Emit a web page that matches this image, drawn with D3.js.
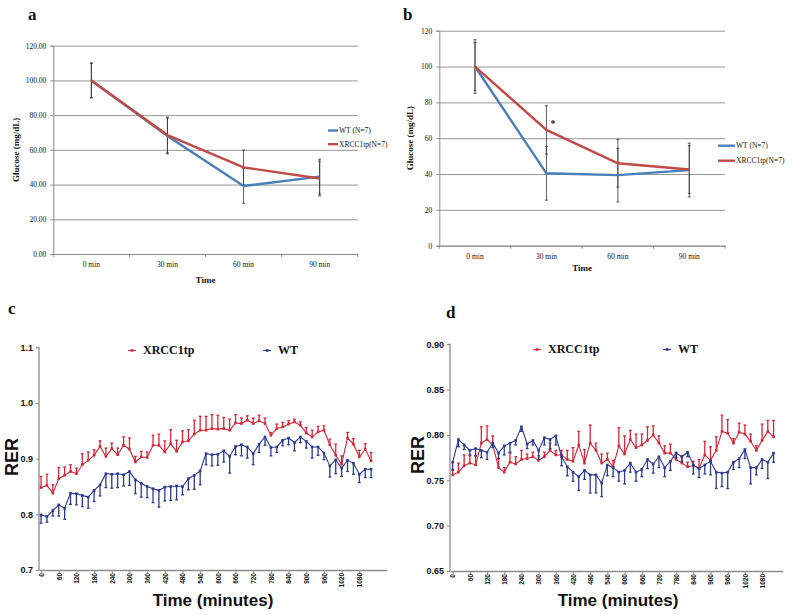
<!DOCTYPE html>
<html><head><meta charset="utf-8">
<script src="https://cdn.jsdelivr.net/npm/d3@7"></script>
<style>
body{margin:0;background:#fff;}
svg{display:block;}
</style></head>
<body>
<svg id="chart" width="800" height="615"></svg>
<script>
// ---------- Data: glucose tolerance (a, b) ----------
const timeCats = ["0 min", "30 min", "60 min", "90 min"];
const glucoseTicksA = [0, 20, 40, 60, 80, 100, 120];
const glucoseTicksB = [0, 20, 40, 60, 80, 100, 120];
const aWT = [100, 68.0, 39.2, 44.6];
const aXRCC = [100, 68.5, 49.9, 43.5];
const aWTerr = [10, 10.3, 10, 10];
const aXRCCerr = [10, 10.3, 10, 10];
const bWT = [100, 40.4, 39.4, 42.2];
const bXRCC = [100, 64.6, 46.0, 42.5];
const bWTerr = [15, 15, 15, 15];
const bXRCCerr = [13.5, 13.5, 13.3, 13.3];
const legendA = ["WT (N=7)", "XRCC1tp(N=7)"];
const legendB = ["WT (N=7)", "XRCC1tp(N=7)"];

// ---------- Data: RER (c, d) ----------
const rerTimes = [0,20,40,60,80,100,120,140,160,180,200,220,240,260,280,300,320,340,360,380,400,420,440,460,480,500,520,540,560,580,600,620,640,660,680,700,720,740,760,780,800,820,840,860,880,900,920,940,960,980,1000,1020,1040,1060,1080,1100,1120];
const rerTickLabels = [0,60,120,180,240,300,360,420,480,540,600,660,720,780,840,900,960,1020,1080];
const cTicksY = [0.7, 0.8, 0.9, 1.0, 1.1];
const dTicksY = [0.65, 0.70, 0.75, 0.80, 0.85, 0.90];
const cXRCC = [.848,.852,.838,.864,.870,.877,.873,.889,.897,.906,.922,.904,.918,.907,.924,.917,.894,.903,.902,.924,.924,.912,.927,.913,.930,.932,.944,.951,.951,.954,.953,.954,.951,.964,.963,.969,.963,.968,.963,.942,.954,.957,.962,.966,.960,.946,.939,.948,.951,.925,.906,.890,.937,.926,.903,.917,.896];
const cXRCCerr = [.02,.02,.015,.02,.015,.012,.01,.02,.015,.01,.01,.015,.01,.012,.015,.02,.01,.01,.01,.018,.02,.02,.025,.02,.02,.02,.025,.025,.025,.025,.025,.02,.02,.015,.01,.008,.01,.01,.01,.005,.008,.008,.006,.005,.006,.01,.012,.01,.008,.01,.02,.015,.01,.01,.012,.01,.015];
const cWT = [.799,.796,.807,.817,.811,.838,.837,.834,.831,.843,.853,.873,.872,.873,.871,.877,.862,.856,.850,.846,.843,.849,.850,.851,.850,.864,.870,.878,.909,.907,.908,.914,.904,.922,.925,.921,.909,.926,.939,.920,.921,.933,.937,.929,.939,.931,.921,.921,.910,.887,.898,.883,.897,.892,.872,.881,.881];
const cWTerr = [.015,.01,.01,.02,.02,.02,.02,.02,.02,.02,.02,.025,.025,.025,.02,.025,.025,.025,.02,.025,.03,.025,.025,.025,.015,.02,.025,.025,.02,.02,.02,.02,.03,.015,.02,.02,.02,.015,.015,.015,.01,.01,.012,.015,.01,.012,.02,.015,.012,.02,.025,.015,.02,.02,.015,.015,.015];
const dXRCC = [.756,.759,.766,.769,.767,.791,.795,.789,.764,.759,.770,.768,.773,.774,.776,.772,.776,.783,.778,.778,.773,.771,.789,.769,.791,.783,.769,.773,.765,.788,.779,.795,.786,.789,.794,.800,.791,.780,.780,.773,.769,.765,.766,.763,.778,.772,.783,.804,.802,.791,.803,.801,.793,.783,.794,.804,.798];
const dXRCCerr = [.005,.01,.012,.008,.01,.018,.015,.01,.01,.005,.01,.008,.01,.005,.005,.005,.005,.008,.005,.005,.01,.015,.015,.015,.02,.008,.01,.007,.007,.02,.02,.01,.015,.012,.015,.01,.008,.008,.01,.008,.008,.005,.005,.01,.015,.015,.015,.018,.015,.005,.01,.01,.008,.005,.018,.012,.018];
const dWT = [.770,.795,.789,.783,.785,.783,.781,.791,.780,.788,.791,.794,.809,.790,.794,.783,.797,.795,.799,.776,.765,.759,.754,.761,.756,.756,.747,.767,.764,.759,.761,.769,.759,.762,.773,.768,.776,.764,.771,.780,.776,.781,.767,.763,.767,.771,.759,.758,.759,.770,.774,.784,.764,.764,.773,.770,.780];
const dWTerr = [.008,.008,.005,.005,.008,.008,.008,.005,.006,.01,.01,.005,.005,.005,.005,.01,.008,.01,.01,.01,.01,.01,.015,.01,.02,.02,.015,.012,.01,.01,.015,.01,.01,.008,.01,.01,.012,.01,.01,.005,.005,.005,.01,.01,.01,.015,.018,.015,.018,.008,.01,.01,.018,.008,.01,.018,.01];
const rerLegend = ["XRCC1tp", "WT"];

// ---------- Styles ----------
const SERIF = "'Liberation Serif','Times New Roman',serif";
const SANS = "'Liberation Sans',Arial,sans-serif";
const XL_BLUE = "#4a7ebb", XL_RED = "#be4b48";
const P_RED = "#d3283a", P_BLUE = "#2c3a8e";

const svg = d3.select("#chart");

function panelLabel(txt, x, y) {
  svg.append("text").attr("x", x).attr("y", y).text(txt)
    .attr("font-family", SERIF).attr("font-weight", "bold").attr("font-size", 17).attr("fill", "#111");
}

// ---------- Glucose panel ----------
function glucosePanel(o) {
  const x = d3.scaleBand().domain(timeCats).range([o.x0, o.x1]).padding(0);
  const y = d3.scaleLinear().domain([0, 120]).range([o.y0, o.y1]);
  const g = svg.append("g");
  g.append("g").attr("transform", `translate(${o.x0},0)`)
    .call(d3.axisLeft(y).tickValues(o.ticks).tickSize(-(o.x1 - o.x0)).tickFormat(""))
    .call(s => { s.select(".domain").remove(); s.selectAll("line").attr("stroke", "#8a8a8a").attr("stroke-width", 0.9); });
  g.append("g").attr("transform", `translate(${o.x0},0)`)
    .call(d3.axisLeft(y).tickValues(o.ticks).tickSize(3).tickPadding(4).tickFormat(o.fmt))
    .call(s => {
      s.select(".domain").attr("stroke", "#8a8a8a");
      s.selectAll("line").attr("stroke", "#8a8a8a");
      s.selectAll("text").attr("font-family", SERIF).attr("font-size", 7.5).attr("fill", "#111");
    });
  const xa = g.append("g").attr("transform", `translate(0,${o.y0})`)
    .call(d3.axisBottom(x).tickSize(0).tickPadding(8))
    .call(s => {
      s.select(".domain").attr("stroke", "#8a8a8a");
      s.selectAll("text").attr("font-family", SERIF).attr("font-size", 7.5).attr("fill", "#111");
    });
  const bounds = [o.x0].concat(timeCats.map(c => x(c) + x.bandwidth()));
  xa.selectAll(".btick").data(bounds).enter().append("line")
    .attr("x1", d => d).attr("x2", d => d).attr("y1", 0).attr("y2", 3).attr("stroke", "#8a8a8a");

  const cx = c => x(c) + x.bandwidth() / 2;
  const series = [{v: o.wt, e: o.wtErr}, {v: o.xr, e: o.xrErr}];
  series.forEach(sr => {
    timeCats.forEach((c, i) => {
      const xx = cx(c), lo = y(sr.v[i] - sr.e[i]), hi = y(sr.v[i] + sr.e[i]);
      g.append("line").attr("x1", xx).attr("x2", xx).attr("y1", lo).attr("y2", hi).attr("stroke", "#333").attr("stroke-width", 0.8);
      [lo, hi].forEach(yy => g.append("line").attr("x1", xx - 1.5).attr("x2", xx + 1.5).attr("y1", yy).attr("y2", yy).attr("stroke", "#333").attr("stroke-width", 0.8));
    });
  });
  const line = d3.line().x((d, i) => cx(timeCats[i])).y(d => y(d));
  g.append("path").datum(o.wt).attr("d", line).attr("fill", "none").attr("stroke", XL_BLUE).attr("stroke-width", 2.4);
  g.append("path").datum(o.xr).attr("d", line).attr("fill", "none").attr("stroke", XL_RED).attr("stroke-width", 2.4);
  svg.append("text").attr("x", (o.x0 + o.x1) / 2).attr("y", o.timeY).attr("text-anchor", "middle").text("Time")
    .attr("font-family", SERIF).attr("font-weight", "bold").attr("font-size", 9).attr("fill", "#111");
  svg.append("text").attr("transform", `translate(${o.ylabX},${(o.y0 + o.y1) / 2}) rotate(-90)`).attr("text-anchor", "middle")
    .text("Glucose (mg/dL)").attr("font-family", SERIF).attr("font-weight", "bold").attr("font-size", 9).attr("fill", "#111");
  [[XL_BLUE, o.legend[0]], [XL_RED, o.legend[1]]].forEach((d, i) => {
    const ly = o.legY + i * o.legGap;
    svg.append("line").attr("x1", o.legX).attr("x2", o.legX + o.legLen).attr("y1", ly).attr("y2", ly).attr("stroke", d[0]).attr("stroke-width", 2.4);
    svg.append("text").attr("x", o.legX + o.legLen + 1).attr("y", ly + 2.5).text(d[1])
      .attr("font-family", SERIF).attr("font-size", 7.5).attr("fill", "#111");
  });
}

glucosePanel({x0: 53.3, x1: 357.7, y0: 254, y1: 45.7, ticks: glucoseTicksA, fmt: d3.format(".2f"),
  wt: aWT, xr: aXRCC, wtErr: aWTerr, xrErr: aXRCCerr, timeY: 283, ylabX: 19,
  legend: legendA, legX: 328, legLen: 10, legY: 130.5, legGap: 13.7});
glucosePanel({x0: 439.3, x1: 725, y0: 245.7, y1: 30.7, ticks: glucoseTicksB, fmt: d3.format("d"),
  wt: bWT, xr: bXRCC, wtErr: bWTerr, xrErr: bXRCCerr, timeY: 271, ylabX: 413,
  legend: legendB, legX: 718, legLen: 17, legY: 145.7, legGap: 15});
{
  const xb = d3.scaleBand().domain(timeCats).range([439.3, 725]);
  const yb = d3.scaleLinear().domain([0, 120]).range([245.7, 30.7]);
  svg.append("text").attr("x", xb("30 min") + xb.bandwidth() / 2 + 4).attr("y", yb(64.6) - 3).text("*")
    .attr("font-family", SERIF).attr("font-weight", "bold").attr("font-size", 10).attr("fill", "#222");
}
panelLabel("a", 28, 20);
panelLabel("b", 403, 20);

// ---------- RER panel ----------
function rerPanel(o) {
  const x = d3.scaleLinear().domain(o.xDom).range([o.x0, o.x1]);
  const y = d3.scaleLinear().domain(o.yDom).range([o.y0, o.y1]);
  const g = svg.append("g");
  const axCol = "#8c8c8c";
  g.append("g").attr("transform", `translate(${o.x0},0)`)
    .call(d3.axisLeft(y).tickValues(o.yTicks).tickSize(3).tickPadding(3).tickFormat(o.fmt))
    .call(s => {
      s.select(".domain").attr("stroke", axCol).attr("stroke-width", 1.3).attr("d", `M-3,${o.y1}H0V${o.y0}`);
      s.selectAll("line").attr("stroke", axCol);
      s.selectAll("text").attr("font-family", SANS).attr("font-weight", "bold").attr("font-size", 9).attr("fill", "#111");
    });
  g.append("g").attr("transform", `translate(0,${o.y0})`)
    .call(d3.axisBottom(x).tickValues(rerTickLabels).tickFormat(d3.format("d")).tickSize(3).tickPadding(2).tickSizeOuter(0))
    .call(s => {
      s.select(".domain").attr("stroke", axCol).attr("stroke-width", 1.3);
      s.selectAll("line").attr("stroke", axCol);
      s.selectAll("text").attr("font-family", SANS).attr("font-weight", "bold").attr("font-size", 6.5).attr("fill", "#111")
        .attr("text-anchor", "end").attr("dy", "0.35em").attr("transform", "translate(0,3) rotate(-90)").attr("x", 0).attr("y", 0);
    });
  function series(vals, errs, col, dir) {
    rerTimes.forEach((t, i) => {
      const xx = x(t), y1 = y(vals[i]), y2 = y(vals[i] + dir * errs[i]);
      g.append("line").attr("x1", xx).attr("x2", xx).attr("y1", y1).attr("y2", y2).attr("stroke", col).attr("stroke-width", 1.3);
      g.append("line").attr("x1", xx - 1.4).attr("x2", xx + 1.4).attr("y1", y2).attr("y2", y2).attr("stroke", col).attr("stroke-width", 1.3);
    });
    g.append("path").datum(vals).attr("d", d3.line().x((d, i) => x(rerTimes[i])).y(d => y(d)))
      .attr("fill", "none").attr("stroke", col).attr("stroke-width", 1.1);
    g.selectAll(null).data(vals).enter().append("rect")
      .attr("x", (d, i) => x(rerTimes[i]) - 1.3).attr("y", d => y(d) - 1.3).attr("width", 2.6).attr("height", 2.6).attr("fill", col);
  }
  series(o.xr, o.xrErr, P_RED, 1);
  series(o.wt, o.wtErr, P_BLUE, -1);
  [[P_RED, rerLegend[0], o.leg1], [P_BLUE, rerLegend[1], o.leg2]].forEach(d => {
    svg.append("line").attr("x1", d[2] - 15).attr("x2", d[2] - 7).attr("y1", o.legY - 3.5).attr("y2", o.legY - 3.5).attr("stroke", d[0]).attr("stroke-width", 1);
    svg.append("rect").attr("x", d[2] - 12.2).attr("y", o.legY - 4.8).attr("width", 2.6).attr("height", 2.6).attr("fill", d[0]);
    svg.append("text").attr("x", d[2]).attr("y", o.legY).text(d[1])
      .attr("font-family", SERIF).attr("font-weight", "bold").attr("font-size", 12).attr("fill", "#111");
  });
  svg.append("text").attr("transform", `translate(${o.rerX},${o.rerY}) rotate(-90)`).attr("text-anchor", "middle").text("RER")
    .attr("font-family", SANS).attr("font-weight", "bold").attr("font-size", 18).attr("fill", "#111");
  svg.append("text").attr("x", o.timeX).attr("y", 606).attr("text-anchor", "middle").text("Time (minutes)")
    .attr("font-family", SANS).attr("font-weight", "bold").attr("font-size", 17).attr("fill", "#111");
}

rerPanel({x0: 39, x1: 386.7, xDom: [-7, 1173], y0: 570, y1: 347.3, yDom: [0.7, 1.1], yTicks: cTicksY, fmt: d3.format(".1f"),
  xr: cXRCC, xrErr: cXRCCerr, wt: cWT, wtErr: cWTerr, leg1: 143, leg2: 278, legY: 354, rerX: 18, rerY: 457, timeX: 213});
rerPanel({x0: 450, x1: 782.7, xDom: [-9.4, 1152], y0: 571, y1: 344.3, yDom: [0.65, 0.90], yTicks: dTicksY, fmt: d3.format(".2f"),
  xr: dXRCC, xrErr: dXRCCerr, wt: dWT, wtErr: dWTerr, leg1: 548, leg2: 678, legY: 353, rerX: 424, rerY: 455, timeX: 618});
panelLabel("c", 8, 314);
panelLabel("d", 446, 318);
</script>
</body></html>
